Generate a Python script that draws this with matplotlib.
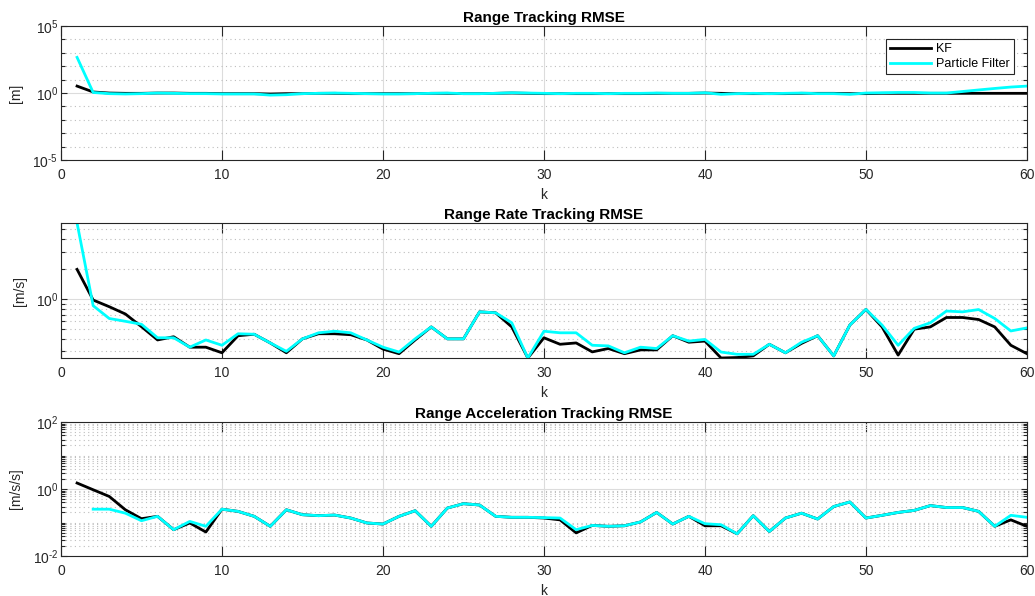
import matplotlib
matplotlib.use("Agg")
import matplotlib.pyplot as plt
import numpy as np
from matplotlib.ticker import FixedLocator, LogLocator, NullFormatter, FuncFormatter

plt.rcParams['font.family'] = ['Liberation Sans', 'DejaVu Sans']
plt.rcParams['mathtext.default'] = 'regular'

k = np.arange(1, 61)

# range RMSE [m]
kf_range = [3.3, 1.2, 1.0, 0.95, 0.95, 1.0, 1.0, 0.95, 0.95, 0.9,
            0.9, 0.9, 0.85, 0.9, 0.9, 0.95, 0.95, 0.9, 0.9, 0.9,
            0.9, 0.9, 0.95, 0.95, 0.9, 0.9, 0.95, 1.0, 0.95, 0.9,
            0.9, 0.9, 0.9, 0.9, 0.9, 0.9, 0.95, 0.95, 0.95, 1.0,
            0.95, 0.9, 0.9, 0.9, 0.9, 0.95, 0.95, 0.95, 0.9, 0.9,
            0.95, 0.95, 0.95, 0.95, 0.95, 0.95, 0.95, 0.95, 0.95, 0.95]
pf_range = [460, 1.1, 0.9, 0.85, 0.9, 1.0, 0.95, 0.9, 0.9, 0.85,
            0.85, 0.85, 0.7, 0.75, 0.9, 0.95, 1.0, 0.95, 0.9, 0.85,
            0.85, 0.9, 0.95, 1.0, 0.9, 0.9, 0.95, 1.05, 1.0, 0.95,
            0.9, 0.95, 0.95, 0.9, 0.95, 0.95, 1.0, 0.95, 0.95, 1.05,
            0.8, 0.9, 0.95, 0.9, 0.95, 1.0, 0.9, 0.9, 0.8, 1.0,
            1.05, 1.1, 1.1, 1.0, 1.0, 1.3, 1.7, 2.2, 2.8, 3.3]

# range rate RMSE [m/s]
kf_rate = [1.99, 0.98, 0.84, 0.71, 0.53, 0.39, 0.42, 0.33, 0.33, 0.29,
           0.43, 0.445, 0.364, 0.29, 0.40, 0.45, 0.45, 0.44, 0.39, 0.316,
           0.284, 0.39, 0.527, 0.40, 0.40, 0.746, 0.73, 0.527, 0.257, 0.41,
           0.353, 0.364, 0.296, 0.32, 0.284, 0.31, 0.31, 0.43, 0.37, 0.38,
           0.257, 0.26, 0.27, 0.353, 0.29, 0.36, 0.43, 0.27, 0.55, 0.79,
           0.527, 0.275, 0.50, 0.527, 0.655, 0.655, 0.625, 0.527, 0.345, 0.284]
pf_rate = [5.8, 0.86, 0.64, 0.60, 0.56, 0.41, 0.41, 0.33, 0.39, 0.345,
           0.45, 0.445, 0.364, 0.30, 0.40, 0.46, 0.477, 0.46, 0.39, 0.33,
           0.295, 0.40, 0.527, 0.40, 0.40, 0.746, 0.73, 0.58, 0.257, 0.477,
           0.46, 0.46, 0.345, 0.34, 0.29, 0.33, 0.32, 0.43, 0.38, 0.395,
           0.295, 0.28, 0.28, 0.353, 0.29, 0.37, 0.43, 0.27, 0.55, 0.79,
           0.55, 0.345, 0.51, 0.58, 0.76, 0.746, 0.787, 0.64, 0.48, 0.515]

# range acceleration RMSE [m/s/s]
kf_acc = [1.51, 0.95, 0.60, 0.24, 0.13, 0.153, 0.061, 0.097, 0.052, 0.25,
          0.215, 0.153, 0.077, 0.24, 0.171, 0.16, 0.167, 0.136, 0.097, 0.09,
          0.153, 0.225, 0.077, 0.27, 0.365, 0.333, 0.153, 0.143, 0.143, 0.136,
          0.12, 0.049, 0.082, 0.077, 0.08, 0.104, 0.20, 0.09, 0.153, 0.08,
          0.08, 0.046, 0.16, 0.054, 0.136, 0.19, 0.127, 0.30, 0.41, 0.136,
          0.164, 0.20, 0.23, 0.32, 0.28, 0.28, 0.215, 0.077, 0.12, 0.077]
pf_acc = [np.nan, 0.25, 0.25, 0.19, 0.113, 0.153, 0.061, 0.108, 0.077, 0.25,
          0.215, 0.153, 0.077, 0.24, 0.171, 0.16, 0.167, 0.136, 0.097, 0.09,
          0.153, 0.225, 0.077, 0.27, 0.365, 0.333, 0.153, 0.143, 0.143, 0.14,
          0.136, 0.061, 0.082, 0.077, 0.08, 0.104, 0.20, 0.09, 0.153, 0.092,
          0.086, 0.046, 0.16, 0.054, 0.136, 0.19, 0.127, 0.30, 0.41, 0.136,
          0.164, 0.20, 0.23, 0.32, 0.28, 0.28, 0.215, 0.077, 0.164, 0.143]

titles = ['Range Tracking RMSE', 'Range Rate Tracking RMSE', 'Range Acceleration Tracking RMSE']
ylabels = ['[m]', '[m/s]', '[m/s/s]']

dark = '#262626'
fig = plt.figure(figsize=(10.35, 5.96), dpi=100)
rects = [[0.0589, 0.7315, 0.9333, 0.2248],
         [0.0589, 0.3993, 0.9333, 0.2265],
         [0.0589, 0.0671, 0.9333, 0.2248]]
data = [(kf_range, pf_range), (kf_rate, pf_rate), (kf_acc, pf_acc)]


def pow_label(v, pos):
    e = int(round(np.log10(v)))
    return '$10^{%s}$' % (('\u2010' + str(-e)) if e < 0 else str(e))


for i in range(3):
    ax = fig.add_axes(rects[i])
    kf, pf = data[i]
    ax.plot(k, kf, color='black', lw=2, label='KF')
    ax.plot(k, pf, color=(0, 1, 1), lw=2, label='Particle Filter')
    ax.set_yscale('log')
    ax.set_xlim(0, 60)
    ax.set_xticks(range(0, 61, 10))

    if i == 0:
        ax.set_ylim(1e-5, 1e5)
        ax.yaxis.set_major_locator(FixedLocator([1e-5, 1, 1e5]))
        ax.yaxis.set_minor_locator(FixedLocator([10.0 ** e for e in range(-5, 6) if e % 5]))
        leg = ax.legend(loc='upper right', fontsize=9, fancybox=False, edgecolor=dark,
                        framealpha=1, borderaxespad=1.0, handlelength=3.3,
                        handletextpad=0.4, labelspacing=0.25, borderpad=0.35)
        leg.get_frame().set_linewidth(0.8)
    elif i == 1:
        allv = np.array(kf + pf)
        ax.set_ylim(allv.min(), allv.max())
        ax.yaxis.set_major_locator(FixedLocator([1]))
        ax.yaxis.set_minor_locator(LogLocator(base=10, subs=range(2, 10), numticks=20))
    else:
        ax.set_ylim(1e-2, 1e2)
        ax.yaxis.set_major_locator(FixedLocator([1e-2, 1, 1e2]))
        ax.yaxis.set_minor_locator(LogLocator(base=10, subs=range(1, 10), numticks=20))

    ax.yaxis.set_major_formatter(FuncFormatter(pow_label))
    ax.yaxis.set_minor_formatter(NullFormatter())

    ax.grid(True, which='major', color='#dcdcdc', lw=0.8)
    ax.grid(True, which='minor', axis='y', color='#bdbdbd', ls=(0, (1, 3)), lw=0.8)
    ax.set_axisbelow(True)

    ax.tick_params(axis='both', which='both', direction='in', top=True, right=True,
                   colors=dark, labelsize=10, width=0.8)
    ax.tick_params(axis='x', which='major', length=7, pad=6)
    ax.tick_params(axis='y', which='major', length=4.5, pad=2)
    ax.tick_params(axis='y', which='minor', length=3)
    for s in ax.spines.values():
        s.set_color(dark)
        s.set_linewidth(0.8)

    ax.set_title(titles[i], fontsize=11, fontweight='bold', pad=3)
    ax.set_xlabel('k', fontsize=10, color=dark, labelpad=4)
    ax.set_ylabel(ylabels[i], fontsize=10, color=dark, labelpad=6.5)

fig.savefig('out.png', dpi=100)
